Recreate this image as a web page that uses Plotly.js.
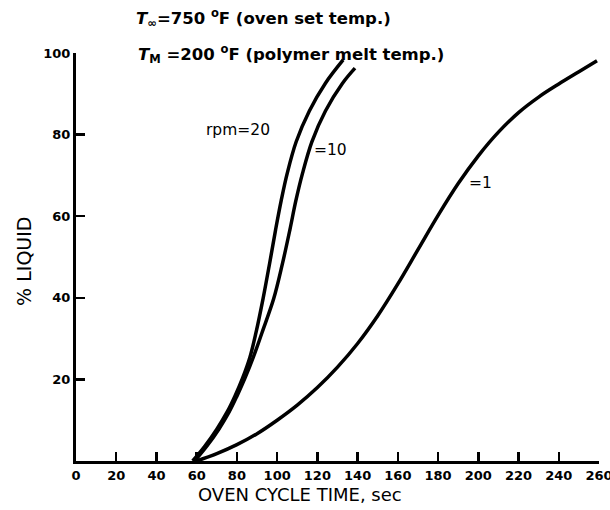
<!DOCTYPE html>
<html>
<head>
<meta charset="utf-8">
<script src="https://cdn.plot.ly/plotly-3.0.1.min.js"></script>
<style>html,body{margin:0;padding:0;background:#fff;}#chart{width:610px;height:510px;}</style>
</head>
<body>
<div id="chart"></div>
<script>
// Oven cycle time (sec) vs % liquid
const rpm20_time   = [58, 64, 70, 75, 79, 82.8, 86.5, 89.5, 93, 96.2, 99.2, 102, 105, 109.5, 116, 124, 132.8];
const rpm20_liquid = [0, 3.6, 7.8, 11.9, 15.9, 20.3, 25.5, 31.5, 39.8, 48.3, 56.6, 63.8, 70.5, 78.3, 85.8, 92.6, 98.3];

const rpm10_time   = [59, 65, 71, 76, 80, 84, 88.2, 92.5, 98.3, 102.6, 106.3, 109.3, 112.6, 117.3, 124, 132.5, 138.7];
const rpm10_liquid = [0, 3.6, 7.8, 11.9, 15.9, 20.3, 25.5, 31.5, 39.8, 48.3, 56.6, 63.8, 70.5, 78.3, 85.8, 92.6, 96.3];

const rpm1_time   = [60, 70, 80, 90, 100, 110, 120, 130, 140, 150, 160, 170, 180, 190, 200, 210, 220, 230, 240, 250, 259];
const rpm1_liquid = [0, 1.8, 4.0, 6.7, 10.0, 13.7, 18.0, 23.0, 28.8, 35.6, 43.4, 51.8, 60.2, 68.0, 74.8, 80.6, 85.4, 89.2, 92.4, 95.4, 98.1];

const xTicks = [0, 20, 40, 60, 80, 100, 120, 140, 160, 180, 200, 220, 240, 260];
const yTicks = [20, 40, 60, 80, 100];

const curveLabels = ["rpm=20", "=10", "=1"];
const headerLines = [
  "<i>T</i><sub>∞</sub>=750 <sup>o</sup>F (oven set temp.)",
  "<i>T</i><sub>M</sub> =200 <sup>o</sup>F (polymer melt temp.)"
];

const FONT = "DejaVu Sans, Liberation Sans, Arial, sans-serif";
const lineStyle = {color: "#000", width: 3.5, shape: "spline", smoothing: 1};

const traces = [
  {x: rpm20_time, y: rpm20_liquid, mode: "lines", line: lineStyle, name: "20", hoverinfo: "skip"},
  {x: rpm10_time, y: rpm10_liquid, mode: "lines", line: lineStyle, name: "10", hoverinfo: "skip"},
  {x: rpm1_time,  y: rpm1_liquid,  mode: "lines", line: lineStyle, name: "1",  hoverinfo: "skip"}
];

const tickFont = {family: FONT, size: 13, color: "#000", weight: "bold"};
const labelFont = {family: FONT, size: 15.5, color: "#000"};
const headerFont = {family: FONT, size: 16.5, color: "#000", weight: "bold"};

const layout = {
  width: 610, height: 510,
  margin: {l: 76, r: 11, t: 53, b: 49},
  paper_bgcolor: "#fff", plot_bgcolor: "#fff",
  showlegend: false,
  xaxis: {
    range: [0, 260], showgrid: false, zeroline: false,
    showline: true, linecolor: "#000", linewidth: 3,
    ticks: "inside", ticklen: 9, tickwidth: 2.5, tickcolor: "#000",
    tickmode: "array", tickvals: xTicks, ticktext: xTicks.map(String),
    tickfont: tickFont, ticklabeloverflow: "allow"
  },
  yaxis: {
    range: [0, 100], showgrid: false, zeroline: false,
    showline: true, linecolor: "#000", linewidth: 3,
    ticks: "inside", ticklen: 9, tickwidth: 2.5, tickcolor: "#000",
    tickmode: "array", tickvals: yTicks, ticktext: yTicks.map(String),
    tickfont: tickFont, ticklabeloverflow: "allow"
  },
  annotations: [
    {text: curveLabels[0], x: 80.4, y: 81.1, xref: "x", yref: "y", showarrow: false, font: labelFont},
    {text: curveLabels[1], x: 126.3, y: 76.2, xref: "x", yref: "y", showarrow: false, font: labelFont},
    {text: curveLabels[2], x: 200.9, y: 68.1, xref: "x", yref: "y", showarrow: false, font: labelFont},
    {text: headerLines[0], x: 0.111, y: 1.087, xref: "paper", yref: "paper", xanchor: "left", yanchor: "middle",
     showarrow: false, font: headerFont},
    {text: headerLines[1], x: 0.115, y: 0.997, xref: "paper", yref: "paper", xanchor: "left", yanchor: "middle",
     showarrow: false, font: headerFont},
    {text: "OVEN CYCLE TIME, sec", x: (300 - 76) / 523, y: 0, xref: "paper", yref: "paper", yshift: -33,
     xanchor: "center", yanchor: "middle", showarrow: false, font: {family: FONT, size: 18, color: "#000"}},
    {text: "% LIQUID", x: 0, y: 0.488, xref: "paper", yref: "paper", xshift: -52, textangle: -90,
     xanchor: "center", yanchor: "middle", showarrow: false, font: {family: FONT, size: 19, color: "#000"}}
  ]
};

Plotly.newPlot("chart", traces, layout, {displayModeBar: false, staticPlot: true});
</script>
</body>
</html>
